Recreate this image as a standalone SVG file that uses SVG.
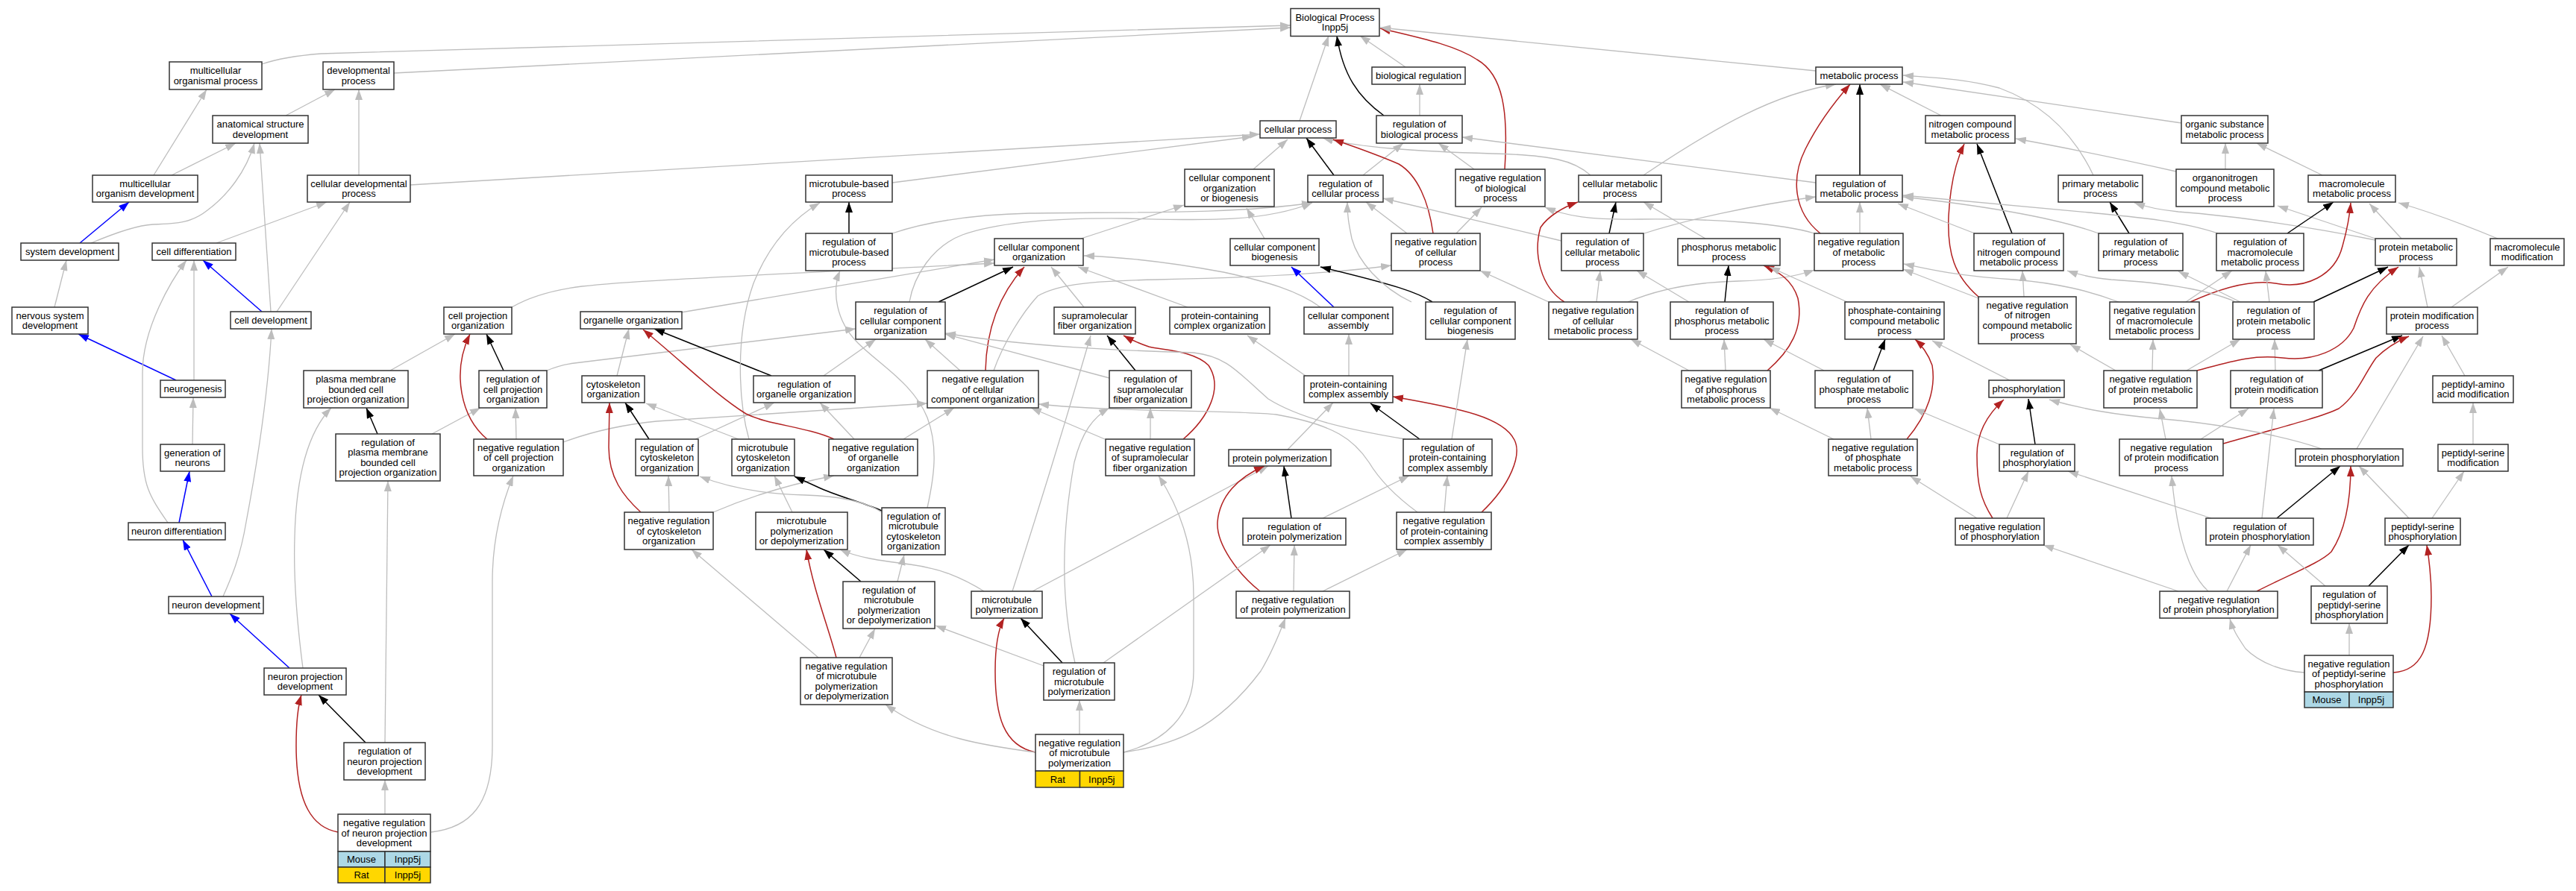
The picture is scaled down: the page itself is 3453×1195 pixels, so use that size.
<svg xmlns="http://www.w3.org/2000/svg" width="3453" height="1195" viewBox="0 0 3453 1195">
<style>
.n{fill:#fff;stroke:#333;stroke-width:1.5}
.t{font-family:"Liberation Sans",Arial,sans-serif;font-size:13px;text-anchor:middle;fill:#000}
.mo{fill:#add8e6;stroke:#333;stroke-width:1.5}
.ra{fill:#ffd700;stroke:#333;stroke-width:1.5}
.g{stroke:#bdbdbd;stroke-width:1.3;fill:none;marker-end:url(#ag)}
.k{stroke:#000;stroke-width:1.5;fill:none;marker-end:url(#ak)}
.r{stroke:#b22222;stroke-width:1.5;fill:none;marker-end:url(#ar)}
.b{stroke:#0000ff;stroke-width:1.5;fill:none;marker-end:url(#ab)}
</style>
<defs>
<marker id="ag" markerUnits="userSpaceOnUse" markerWidth="14" markerHeight="10" viewBox="0 0 14 10" refX="14" refY="5" orient="auto"><path d="M0,0 L14,5 L0,10 z" fill="#bdbdbd"/></marker>
<marker id="ak" markerUnits="userSpaceOnUse" markerWidth="14" markerHeight="10" viewBox="0 0 14 10" refX="14" refY="5" orient="auto"><path d="M0,0 L14,5 L0,10 z" fill="#000"/></marker>
<marker id="ar" markerUnits="userSpaceOnUse" markerWidth="14" markerHeight="10" viewBox="0 0 14 10" refX="14" refY="5" orient="auto"><path d="M0,0 L14,5 L0,10 z" fill="#b22222"/></marker>
<marker id="ab" markerUnits="userSpaceOnUse" markerWidth="14" markerHeight="10" viewBox="0 0 14 10" refX="14" refY="5" orient="auto"><path d="M0,0 L14,5 L0,10 z" fill="#0000ff"/></marker>
</defs>
<rect width="3453" height="1195" fill="#fff"/>
<g id="edges">
<path class="g" d="M351,86 Q380,76 430,72 L1730,34"/>
<path class="g" d="M528,98 L1730,37"/>
<path class="g" d="M383,155 L449,120"/>
<path class="g" d="M206,235 L277,120"/>
<path class="g" d="M230,235 L316,192"/>
<path class="g" d="M481,235 L481,120"/>
<path class="g" d="M550,248 L1689,180"/>
<path class="b" d="M107,326 L173,271"/>
<path class="g" d="M122,326 C160,310 185,302 205,301 C240,300 258,298 278,282 C305,262 330,230 341,192"/>
<path class="g" d="M290,326 L438,271"/>
<path class="g" d="M363,418 L348,192"/>
<path class="g" d="M371,418 L469,271"/>
<path class="b" d="M351,418 L272,349"/>
<path class="g" d="M73,412 L89,349"/>
<path class="b" d="M236,510 L105,448"/>
<path class="g" d="M260,510 L260,349"/>
<path class="g" d="M258,596 L259,533"/>
<path class="g" d="M225,701 C200,665 191,650 191,600 L191,500 C191,440 230,375 250,349"/>
<path class="b" d="M240,701 L254,632"/>
<path class="b" d="M284,800 L245,724"/>
<path class="g" d="M299,800 C310,775 322,748 330,700 C345,620 360,520 364,441"/>
<path class="b" d="M388,896 L308,823"/>
<path class="g" d="M406,896 C400,850 393,780 395,720 C397,640 412,580 444,547"/>
<path class="k" d="M490,996 L427,932"/>
<path class="g" d="M516,996 L520,645"/>
<path class="g" d="M516,1092 L516,1046"/>
<path class="r" d="M453,1116 C420,1110 397,1080 397,1000 C397,970 400,945 404,932"/>
<path class="g" d="M578,1116 C630,1110 660,1080 660,1000 L660,780 C660,720 675,670 688,638"/>
<path class="g" d="M523,497 L610,448"/>
<path class="k" d="M506,582 L491,547"/>
<path class="g" d="M579,582 L644,547"/>
<path class="k" d="M675,497 L652,448"/>
<path class="g" d="M733,497 C745,492 755,489 770,487 L1147,441"/>
<path class="r" d="M653,589 C618,560 605,500 630,448"/>
<path class="g" d="M692,589 L691,547"/>
<path class="g" d="M755,593 C790,580 830,570 880,565 L1243,541"/>
<path class="g" d="M686,412 C710,398 740,389 780,384 C850,376 1000,370 1333,353"/>
<path class="g" d="M913,419 L1333,348"/>
<path class="g" d="M827,504 L843,441"/>
<path class="k" d="M1034,504 L877,441"/>
<path class="g" d="M1104,504 L1174,455"/>
<path class="k" d="M870,589 L838,540"/>
<path class="g" d="M932,589 L1038,540"/>
<path class="r" d="M859,687 C835,665 816,640 816,600 L817,540"/>
<path class="g" d="M897,687 L896,638"/>
<path class="g" d="M956,687 Q1030,655 1118,638"/>
<path class="g" d="M990,589 L866,541"/>
<path class="g" d="M1004,589 C990,540 985,450 1010,380 C1030,330 1060,295 1099,272"/>
<path class="r" d="M1118,589 C1080,572 1030,570 1000,555 C960,530 920,490 862,442"/>
<path class="g" d="M1145,589 L1099,540"/>
<path class="g" d="M1211,589 L1279,547"/>
<path class="k" d="M1258,405 L1358,358"/>
<path class="g" d="M1219,405 C1225,370 1250,330 1290,315 C1340,297 1420,292 1510,293 C1600,295 1690,300 1759,272"/>
<path class="k" d="M1138,313 L1138,271"/>
<path class="g" d="M1196,313 C1240,298 1300,288 1380,286 C1500,284 1650,288 1759,272"/>
<path class="g" d="M1196,245 L1679,183"/>
<path class="g" d="M1449,320 L1587,275"/>
<path class="g" d="M1695,320 L1671,279"/>
<path class="g" d="M1680,227 L1726,187"/>
<path class="g" d="M1453,412 L1409,358"/>
<path class="g" d="M1592,412 L1445,358"/>
<path class="r" d="M1321,497 C1322,450 1335,400 1373,358"/>
<path class="g" d="M1287,497 L1240,455"/>
<path class="g" d="M1332,497 C1345,460 1370,420 1391,397 C1420,380 1470,377 1550,375 C1700,372 1800,365 1865,356"/>
<path class="k" d="M1522,497 L1484,450"/>
<path class="g" d="M1487,507 L1267,448"/>
<path class="r" d="M1586,589 C1620,560 1640,520 1620,490 C1600,470 1560,470 1540,465 C1525,460 1515,455 1506,450"/>
<path class="g" d="M1542,589 L1542,547"/>
<path class="g" d="M1481,589 L1382,547"/>
<path class="g" d="M1770,412 C1740,390 1700,378 1640,365 C1570,352 1510,345 1453,343"/>
<path class="g" d="M1357,793 C1390,690 1430,560 1462,450"/>
<path class="g" d="M1441,889 C1425,820 1420,730 1440,620 C1450,580 1465,560 1487,547"/>
<path class="b" d="M1788,412 L1731,358"/>
<path class="k" d="M1920,405 C1900,392 1870,382 1770,358"/>
<path class="g" d="M1808,504 L1808,448"/>
<path class="g" d="M1750,504 L1672,450"/>
<path class="g" d="M1726,603 L1787,540"/>
<path class="k" d="M1903,589 L1837,541"/>
<path class="r" d="M1986,687 C2025,650 2040,610 2030,590 C2015,560 1960,548 1867,532"/>
<path class="g" d="M1936,687 L1940,638"/>
<path class="g" d="M1946,589 L1967,455"/>
<path class="g" d="M1884,589 C1800,575 1740,560 1700,535 C1660,500 1645,478 1600,473 C1500,470 1380,465 1267,447"/>
<path class="g" d="M1900,687 C1870,665 1850,645 1835,620 C1815,590 1790,570 1711,556 C1650,550 1500,553 1392,542"/>
<path class="g" d="M1384,793 L1700,625"/>
<path class="k" d="M1731,695 L1721,625"/>
<path class="r" d="M1689,793 C1660,770 1630,730 1632,700 C1635,665 1660,640 1695,625"/>
<path class="g" d="M1734,793 L1735,731"/>
<path class="g" d="M1773,793 L1886,737"/>
<path class="g" d="M1773,695 L1889,638"/>
<path class="g" d="M1062,687 L1038,638"/>
<path class="k" d="M1154,780 L1104,737"/>
<path class="g" d="M1203,780 L1212,744"/>
<path class="r" d="M1121,882 C1110,840 1090,790 1081,737"/>
<path class="g" d="M1152,882 L1173,843"/>
<path class="g" d="M1097,882 L927,737"/>
<path class="k" d="M1182,685 C1160,675 1130,668 1100,655 L1065,639"/>
<path class="g" d="M1182,687 C1160,672 1120,665 1080,664 C1030,663 980,655 938,639"/>
<path class="g" d="M1243,681 C1252,640 1258,600 1243,560 C1225,515 1180,490 1150,460 C1120,430 1115,390 1126,363"/>
<path class="g" d="M1319,793 C1290,775 1260,762 1220,757 C1180,752 1150,748 1126,737"/>
<path class="k" d="M1424,889 L1368,829"/>
<path class="g" d="M1399,893 L1254,839"/>
<path class="g" d="M1479,889 L1703,731"/>
<path class="g" d="M1447,985 L1447,939"/>
<path class="r" d="M1388,1009 C1345,1000 1334,960 1334,900 C1334,860 1340,840 1346,829"/>
<path class="g" d="M1388,1009 C1320,1000 1250,990 1187,945"/>
<path class="g" d="M1506,1009 C1570,1000 1630,980 1690,900 C1705,875 1715,850 1723,829"/>
<path class="g" d="M1506,1009 C1560,995 1600,960 1600,900 L1600,800 C1600,730 1580,680 1553,638"/>
<path class="g" d="M1884,90 L1823,48"/>
<path class="g" d="M1742,162 L1781,48"/>
<path class="k" d="M1855,155 C1820,130 1800,100 1792,48"/>
<path class="g" d="M1903,155 L1903,113"/>
<path class="r" d="M2017,227 C2022,150 2015,100 1980,80 C1950,60 1900,50 1850,38"/>
<path class="g" d="M2434,95 L1850,37"/>
<path class="g" d="M1976,227 L1928,192"/>
<path class="k" d="M1788,235 L1751,185"/>
<path class="g" d="M1827,235 L1881,192"/>
<path class="g" d="M2132,235 C2110,215 2080,208 2000,206 C1900,203 1820,198 1773,185"/>
<path class="g" d="M2203,235 C2300,170 2380,125 2461,113"/>
<path class="r" d="M1921,313 C1915,270 1900,235 1875,220 C1840,205 1810,195 1787,187"/>
<path class="g" d="M1886,313 L1831,271"/>
<path class="g" d="M1952,313 L1986,278"/>
<path class="k" d="M2157,313 L2166,271"/>
<path class="g" d="M2093,323 L1854,266"/>
<path class="g" d="M2204,313 C2260,295 2350,275 2434,264"/>
<path class="k" d="M2493,235 L2493,113"/>
<path class="g" d="M2434,245 L1960,184"/>
<path class="g" d="M2286,320 L2203,271"/>
<path class="r" d="M2440,313 C2405,285 2400,240 2420,200 C2440,160 2465,130 2480,113"/>
<path class="g" d="M2493,313 L2493,271"/>
<path class="g" d="M2432,313 C2390,300 2300,293 2200,294 C2130,295 2100,290 2071,278"/>
<path class="g" d="M1892,405 C1850,385 1820,350 1812,320 C1808,300 1806,290 1806,271"/>
<path class="g" d="M2076,405 L1984,363"/>
<path class="r" d="M2097,405 C2065,385 2055,340 2065,305 C2075,290 2095,278 2115,271"/>
<path class="g" d="M2140,405 L2145,363"/>
<path class="g" d="M2182,405 C2230,385 2280,378 2330,377 C2380,376 2410,370 2432,362"/>
<path class="k" d="M2312,405 L2317,356"/>
<path class="g" d="M2264,405 L2194,363"/>
<path class="r" d="M2369,497 C2400,470 2418,440 2410,400 C2402,375 2385,365 2364,356"/>
<path class="g" d="M2313,497 L2311,455"/>
<path class="g" d="M2264,497 L2186,455"/>
<path class="g" d="M2476,405 L2372,358"/>
<path class="k" d="M2511,497 L2527,455"/>
<path class="g" d="M2445,497 L2364,455"/>
<path class="r" d="M2556,589 C2585,555 2595,520 2590,490 C2585,475 2575,462 2567,455"/>
<path class="g" d="M2508,589 L2503,547"/>
<path class="g" d="M2458,589 L2372,547"/>
<path class="g" d="M2602,155 L2520,113"/>
<path class="g" d="M2806,235 C2780,180 2740,140 2680,118 C2630,105 2590,104 2551,101"/>
<path class="g" d="M2924,165 L2551,110"/>
<path class="k" d="M2697,313 L2650,193"/>
<path class="r" d="M2652,398 C2620,370 2610,340 2612,290 C2614,250 2620,220 2633,193"/>
<path class="g" d="M2713,398 L2711,363"/>
<path class="g" d="M2652,400 L2551,361"/>
<path class="k" d="M2854,313 L2828,271"/>
<path class="g" d="M2813,313 C2750,290 2650,275 2551,264"/>
<path class="g" d="M2647,313 L2544,273"/>
<path class="g" d="M2973,313 C2920,295 2850,290 2800,285 C2700,275 2620,268 2551,262"/>
<path class="g" d="M2983,227 L2983,192"/>
<path class="g" d="M2917,230 C2850,215 2780,200 2702,186"/>
<path class="g" d="M3113,235 L3025,192"/>
<path class="g" d="M3184,322 C3100,305 3000,290 2920,284 C2890,281 2875,277 2861,272"/>
<path class="g" d="M3184,320 L3053,276"/>
<path class="g" d="M3219,320 L3176,273"/>
<path class="g" d="M3348,320 C3300,300 3260,285 3215,272"/>
<path class="k" d="M3066,313 L3128,271"/>
<path class="r" d="M2936,405 C2980,385 3020,375 3050,380 C3090,388 3130,370 3140,330 C3147,305 3150,285 3151,272"/>
<path class="g" d="M2930,405 L2992,363"/>
<path class="g" d="M2840,405 C2800,390 2760,380 2700,375 C2620,370 2580,360 2552,354"/>
<path class="k" d="M3101,405 L3201,358"/>
<path class="g" d="M3042,405 L3037,363"/>
<path class="g" d="M3003,405 L2920,364"/>
<path class="g" d="M2995,404 C2950,385 2880,378 2830,375 C2800,372 2785,368 2771,363"/>
<path class="g" d="M3254,412 L3243,358"/>
<path class="g" d="M3286,412 L3362,358"/>
<path class="k" d="M3108,497 L3220,450"/>
<path class="g" d="M3050,497 L3049,455"/>
<path class="r" d="M2945,497 C2990,485 3020,475 3060,480 C3100,485 3140,470 3155,440 C3165,410 3175,385 3215,358"/>
<path class="g" d="M2931,497 L3003,455"/>
<path class="g" d="M2885,497 L2886,455"/>
<path class="g" d="M2836,497 L2775,462"/>
<path class="g" d="M3304,504 L3273,450"/>
<path class="g" d="M2694,510 L2590,457"/>
<path class="r" d="M2980,595 C3050,575 3110,560 3135,548 C3160,530 3170,500 3185,480 C3200,465 3215,457 3229,451"/>
<path class="g" d="M2950,589 L3014,548"/>
<path class="g" d="M2903,589 L2895,548"/>
<path class="g" d="M3112,602 C3050,580 2950,566 2900,562 C2830,556 2790,548 2747,536"/>
<path class="g" d="M3159,602 L3248,451"/>
<path class="k" d="M2728,596 L2719,535"/>
<path class="g" d="M2680,596 L2566,548"/>
<path class="r" d="M2671,695 C2655,670 2650,650 2650,610 C2650,580 2665,555 2686,536"/>
<path class="g" d="M2690,695 L2719,632"/>
<path class="g" d="M2650,695 L2561,639"/>
<path class="k" d="M3052,695 L3137,625"/>
<path class="g" d="M2964,695 L2772,632"/>
<path class="g" d="M3032,695 L3048,548"/>
<path class="r" d="M3025,793 C3070,770 3110,755 3125,740 C3145,710 3151,670 3151,625"/>
<path class="g" d="M2985,793 L3017,731"/>
<path class="g" d="M2920,793 L2739,731"/>
<path class="g" d="M2960,793 C2935,770 2918,720 2911,638"/>
<path class="g" d="M3229,695 L3162,625"/>
<path class="g" d="M3260,695 L3303,632"/>
<path class="g" d="M3315,596 L3315,540"/>
<path class="k" d="M3175,786 L3229,731"/>
<path class="g" d="M3117,786 L3053,731"/>
<path class="g" d="M3149,879 L3149,836"/>
<path class="g" d="M3089,902 C3060,900 3030,890 3010,870 C3000,855 2993,845 2989,830"/>
<path class="r" d="M3208,902 C3245,900 3259,870 3259,800 C3259,770 3256,750 3253,731"/>
</g>
<g id="n1"><rect class="n" x="227" y="83" width="124" height="37"/><text class="t"><tspan x="289" y="99.4">multicellular</tspan><tspan x="289" y="112.8">organismal process</tspan></text></g>
<g id="n2"><rect class="n" x="433" y="83" width="95" height="37"/><text class="t"><tspan x="480.5" y="99.4">developmental</tspan><tspan x="480.5" y="112.8">process</tspan></text></g>
<g id="n3"><rect class="n" x="285" y="155" width="128" height="37"/><text class="t"><tspan x="349" y="171.4">anatomical structure</tspan><tspan x="349" y="184.8">development</tspan></text></g>
<g id="n4"><rect class="n" x="124" y="235" width="141" height="36"/><text class="t"><tspan x="194.5" y="250.9">multicellular</tspan><tspan x="194.5" y="264.3">organism development</tspan></text></g>
<g id="n5"><rect class="n" x="412" y="235" width="138" height="36"/><text class="t"><tspan x="481" y="250.9">cellular developmental</tspan><tspan x="481" y="264.3">process</tspan></text></g>
<g id="n6"><rect class="n" x="28" y="326" width="131" height="23"/><text class="t" x="93.5" y="342.1">system development</text></g>
<g id="n7"><rect class="n" x="204" y="326" width="112" height="23"/><text class="t" x="260" y="342.1">cell differentiation</text></g>
<g id="n8"><rect class="n" x="16" y="412" width="102" height="36"/><text class="t"><tspan x="67" y="427.9">nervous system</tspan><tspan x="67" y="441.3">development</tspan></text></g>
<g id="n9"><rect class="n" x="309" y="418" width="108" height="23"/><text class="t" x="363" y="434.1">cell development</text></g>
<g id="n10"><rect class="n" x="595" y="412" width="91" height="36"/><text class="t"><tspan x="640.5" y="427.9">cell projection</tspan><tspan x="640.5" y="441.3">organization</tspan></text></g>
<g id="n11"><rect class="n" x="778" y="418" width="136" height="23"/><text class="t" x="846" y="434.1">organelle organization</text></g>
<g id="n12"><rect class="n" x="215" y="510" width="87" height="23"/><text class="t" x="258.5" y="526.1">neurogenesis</text></g>
<g id="n13"><rect class="n" x="407" y="497" width="140" height="50"/><text class="t"><tspan x="477" y="513.2">plasma membrane</tspan><tspan x="477" y="526.6">bounded cell</tspan><tspan x="477" y="540">projection organization</tspan></text></g>
<g id="n14"><rect class="n" x="642" y="497" width="91" height="50"/><text class="t"><tspan x="687.5" y="513.2">regulation of</tspan><tspan x="687.5" y="526.6">cell projection</tspan><tspan x="687.5" y="540">organization</tspan></text></g>
<g id="n15"><rect class="n" x="780" y="504" width="84" height="36"/><text class="t"><tspan x="822" y="519.9">cytoskeleton</tspan><tspan x="822" y="533.3">organization</tspan></text></g>
<g id="n16"><rect class="n" x="450" y="582" width="140" height="63"/><text class="t"><tspan x="520" y="598">regulation of</tspan><tspan x="520" y="611.4">plasma membrane</tspan><tspan x="520" y="624.8">bounded cell</tspan><tspan x="520" y="638.2">projection organization</tspan></text></g>
<g id="n17"><rect class="n" x="635" y="589" width="120" height="49"/><text class="t"><tspan x="695" y="604.7">negative regulation</tspan><tspan x="695" y="618.1">of cell projection</tspan><tspan x="695" y="631.5">organization</tspan></text></g>
<g id="n18"><rect class="n" x="215" y="596" width="86" height="36"/><text class="t"><tspan x="258" y="611.9">generation of</tspan><tspan x="258" y="625.3">neurons</tspan></text></g>
<g id="n19"><rect class="n" x="172" y="701" width="130" height="23"/><text class="t" x="237" y="717.1">neuron differentiation</text></g>
<g id="n20"><rect class="n" x="226" y="800" width="127" height="23"/><text class="t" x="289.5" y="816.1">neuron development</text></g>
<g id="n21"><rect class="n" x="354" y="896" width="110" height="36"/><text class="t"><tspan x="409" y="911.9">neuron projection</tspan><tspan x="409" y="925.3">development</tspan></text></g>
<g id="n22"><rect class="n" x="461" y="996" width="109" height="50"/><text class="t"><tspan x="515.5" y="1012.2">regulation of</tspan><tspan x="515.5" y="1025.6">neuron projection</tspan><tspan x="515.5" y="1039">development</tspan></text></g>
<g id="n23"><rect class="n" x="453" y="1092" width="124" height="50"/><rect class="mo" x="453" y="1142" width="63" height="21"/><rect class="mo" x="516" y="1142" width="61" height="21"/><rect class="ra" x="453" y="1163" width="63" height="21"/><rect class="ra" x="516" y="1163" width="61" height="21"/><text class="t"><tspan x="515" y="1108.2">negative regulation</tspan><tspan x="515" y="1121.6">of neuron projection</tspan><tspan x="515" y="1135">development</tspan></text><text class="t" x="484.5" y="1157.1">Mouse</text><text class="t" x="546.5" y="1157.1">Inpp5j</text><text class="t" x="484.5" y="1178.1">Rat</text><text class="t" x="546.5" y="1178.1">Inpp5j</text></g>
<g id="n24"><rect class="n" x="1080" y="235" width="116" height="36"/><text class="t"><tspan x="1138" y="250.9">microtubule-based</tspan><tspan x="1138" y="264.3">process</tspan></text></g>
<g id="n25"><rect class="n" x="1080" y="313" width="116" height="50"/><text class="t"><tspan x="1138" y="329.2">regulation of</tspan><tspan x="1138" y="342.6">microtubule-based</tspan><tspan x="1138" y="356">process</tspan></text></g>
<g id="n26"><rect class="n" x="1588" y="227" width="120" height="50"/><text class="t"><tspan x="1648" y="243.2">cellular component</tspan><tspan x="1648" y="256.6">organization</tspan><tspan x="1648" y="270">or biogenesis</tspan></text></g>
<g id="n27"><rect class="n" x="1333" y="320" width="119" height="36"/><text class="t"><tspan x="1392.5" y="335.9">cellular component</tspan><tspan x="1392.5" y="349.3">organization</tspan></text></g>
<g id="n28"><rect class="n" x="1649" y="320" width="119" height="36"/><text class="t"><tspan x="1708.5" y="335.9">cellular component</tspan><tspan x="1708.5" y="349.3">biogenesis</tspan></text></g>
<g id="n29"><rect class="n" x="1147" y="405" width="120" height="50"/><text class="t"><tspan x="1207" y="421.2">regulation of</tspan><tspan x="1207" y="434.6">cellular component</tspan><tspan x="1207" y="448">organization</tspan></text></g>
<g id="n30"><rect class="n" x="1413" y="412" width="109" height="36"/><text class="t"><tspan x="1467.5" y="427.9">supramolecular</tspan><tspan x="1467.5" y="441.3">fiber organization</tspan></text></g>
<g id="n31"><rect class="n" x="1568" y="412" width="134" height="36"/><text class="t"><tspan x="1635" y="427.9">protein-containing</tspan><tspan x="1635" y="441.3">complex organization</tspan></text></g>
<g id="n32"><rect class="n" x="1010" y="504" width="136" height="36"/><text class="t"><tspan x="1078" y="519.9">regulation of</tspan><tspan x="1078" y="533.3">organelle organization</tspan></text></g>
<g id="n33"><rect class="n" x="1243" y="497" width="149" height="50"/><text class="t"><tspan x="1317.5" y="513.2">negative regulation</tspan><tspan x="1317.5" y="526.6">of cellular</tspan><tspan x="1317.5" y="540">component organization</tspan></text></g>
<g id="n34"><rect class="n" x="1487" y="497" width="110" height="50"/><text class="t"><tspan x="1542" y="513.2">regulation of</tspan><tspan x="1542" y="526.6">supramolecular</tspan><tspan x="1542" y="540">fiber organization</tspan></text></g>
<g id="n35"><rect class="n" x="852" y="589" width="84" height="49"/><text class="t"><tspan x="894" y="604.7">regulation of</tspan><tspan x="894" y="618.1">cytoskeleton</tspan><tspan x="894" y="631.5">organization</tspan></text></g>
<g id="n36"><rect class="n" x="981" y="589" width="84" height="49"/><text class="t"><tspan x="1023" y="604.7">microtubule</tspan><tspan x="1023" y="618.1">cytoskeleton</tspan><tspan x="1023" y="631.5">organization</tspan></text></g>
<g id="n37"><rect class="n" x="1111" y="589" width="119" height="49"/><text class="t"><tspan x="1170.5" y="604.7">negative regulation</tspan><tspan x="1170.5" y="618.1">of organelle</tspan><tspan x="1170.5" y="631.5">organization</tspan></text></g>
<g id="n38"><rect class="n" x="837" y="687" width="119" height="50"/><text class="t"><tspan x="896.5" y="703.2">negative regulation</tspan><tspan x="896.5" y="716.6">of cytoskeleton</tspan><tspan x="896.5" y="730">organization</tspan></text></g>
<g id="n39"><rect class="n" x="1013" y="687" width="123" height="50"/><text class="t"><tspan x="1074.5" y="703.2">microtubule</tspan><tspan x="1074.5" y="716.6">polymerization</tspan><tspan x="1074.5" y="730">or depolymerization</tspan></text></g>
<g id="n40"><rect class="n" x="1182" y="681" width="85" height="63"/><text class="t"><tspan x="1224.5" y="697">regulation of</tspan><tspan x="1224.5" y="710.4">microtubule</tspan><tspan x="1224.5" y="723.8">cytoskeleton</tspan><tspan x="1224.5" y="737.2">organization</tspan></text></g>
<g id="n41"><rect class="n" x="1130" y="780" width="123" height="63"/><text class="t"><tspan x="1191.5" y="796">regulation of</tspan><tspan x="1191.5" y="809.4">microtubule</tspan><tspan x="1191.5" y="822.8">polymerization</tspan><tspan x="1191.5" y="836.2">or depolymerization</tspan></text></g>
<g id="n42"><rect class="n" x="1302" y="793" width="95" height="36"/><text class="t"><tspan x="1349.5" y="808.9">microtubule</tspan><tspan x="1349.5" y="822.3">polymerization</tspan></text></g>
<g id="n43"><rect class="n" x="1073" y="882" width="123" height="63"/><text class="t"><tspan x="1134.5" y="898">negative regulation</tspan><tspan x="1134.5" y="911.4">of microtubule</tspan><tspan x="1134.5" y="924.8">polymerization</tspan><tspan x="1134.5" y="938.2">or depolymerization</tspan></text></g>
<g id="n44"><rect class="n" x="1399" y="889" width="95" height="50"/><text class="t"><tspan x="1446.5" y="905.2">regulation of</tspan><tspan x="1446.5" y="918.6">microtubule</tspan><tspan x="1446.5" y="932">polymerization</tspan></text></g>
<g id="n45"><rect class="n" x="1388" y="985" width="118" height="49"/><rect class="ra" x="1388" y="1034" width="59.5" height="22"/><rect class="ra" x="1447.5" y="1034" width="58.5" height="22"/><text class="t"><tspan x="1447" y="1000.7">negative regulation</tspan><tspan x="1447" y="1014.1">of microtubule</tspan><tspan x="1447" y="1027.5">polymerization</tspan></text><text class="t" x="1417.8" y="1049.6">Rat</text><text class="t" x="1476.8" y="1049.6">Inpp5j</text></g>
<g id="n46"><rect class="n" x="1482" y="589" width="119" height="49"/><text class="t"><tspan x="1541.5" y="604.7">negative regulation</tspan><tspan x="1541.5" y="618.1">of supramolecular</tspan><tspan x="1541.5" y="631.5">fiber organization</tspan></text></g>
<g id="n47"><rect class="n" x="1647" y="603" width="137" height="22"/><text class="t" x="1715.5" y="618.6">protein polymerization</text></g>
<g id="n48"><rect class="n" x="1666" y="695" width="138" height="36"/><text class="t"><tspan x="1735" y="710.9">regulation of</tspan><tspan x="1735" y="724.3">protein polymerization</tspan></text></g>
<g id="n49"><rect class="n" x="1657" y="793" width="152" height="36"/><text class="t"><tspan x="1733" y="808.9">negative regulation</tspan><tspan x="1733" y="822.3">of protein polymerization</tspan></text></g>
<g id="n50"><rect class="n" x="1730" y="11.5" width="119" height="37"/><text class="t"><tspan x="1789.5" y="27.9">Biological Process</tspan><tspan x="1789.5" y="41.3">Inpp5j</tspan></text></g>
<g id="n51"><rect class="n" x="1839" y="90" width="125" height="23"/><text class="t" x="1901.5" y="106.1">biological regulation</text></g>
<g id="n52"><rect class="n" x="2434" y="90" width="116" height="23"/><text class="t" x="2492" y="106.1">metabolic process</text></g>
<g id="n53"><rect class="n" x="1689" y="162" width="102" height="23"/><text class="t" x="1740" y="178.1">cellular process</text></g>
<g id="n54"><rect class="n" x="1845" y="155" width="115" height="37"/><text class="t"><tspan x="1902.5" y="171.4">regulation of</tspan><tspan x="1902.5" y="184.8">biological process</tspan></text></g>
<g id="n55"><rect class="n" x="1753" y="235" width="101" height="36"/><text class="t"><tspan x="1803.5" y="250.9">regulation of</tspan><tspan x="1803.5" y="264.3">cellular process</tspan></text></g>
<g id="n56"><rect class="n" x="1951" y="227" width="120" height="50"/><text class="t"><tspan x="2011" y="243.2">negative regulation</tspan><tspan x="2011" y="256.6">of biological</tspan><tspan x="2011" y="270">process</tspan></text></g>
<g id="n57"><rect class="n" x="2116" y="235" width="111" height="36"/><text class="t"><tspan x="2171.5" y="250.9">cellular metabolic</tspan><tspan x="2171.5" y="264.3">process</tspan></text></g>
<g id="n58"><rect class="n" x="2434" y="235" width="116" height="36"/><text class="t"><tspan x="2492" y="250.9">regulation of</tspan><tspan x="2492" y="264.3">metabolic process</tspan></text></g>
<g id="n59"><rect class="n" x="1865" y="313" width="119" height="50"/><text class="t"><tspan x="1924.5" y="329.2">negative regulation</tspan><tspan x="1924.5" y="342.6">of cellular</tspan><tspan x="1924.5" y="356">process</tspan></text></g>
<g id="n60"><rect class="n" x="2093" y="313" width="110" height="50"/><text class="t"><tspan x="2148" y="329.2">regulation of</tspan><tspan x="2148" y="342.6">cellular metabolic</tspan><tspan x="2148" y="356">process</tspan></text></g>
<g id="n61"><rect class="n" x="2249" y="320" width="137" height="36"/><text class="t"><tspan x="2317.5" y="335.9">phosphorus metabolic</tspan><tspan x="2317.5" y="349.3">process</tspan></text></g>
<g id="n62"><rect class="n" x="2432" y="313" width="119" height="50"/><text class="t"><tspan x="2491.5" y="329.2">negative regulation</tspan><tspan x="2491.5" y="342.6">of metabolic</tspan><tspan x="2491.5" y="356">process</tspan></text></g>
<g id="n63"><rect class="n" x="1748" y="412" width="119" height="36"/><text class="t"><tspan x="1807.5" y="427.9">cellular component</tspan><tspan x="1807.5" y="441.3">assembly</tspan></text></g>
<g id="n64"><rect class="n" x="1911" y="405" width="120" height="50"/><text class="t"><tspan x="1971" y="421.2">regulation of</tspan><tspan x="1971" y="434.6">cellular component</tspan><tspan x="1971" y="448">biogenesis</tspan></text></g>
<g id="n65"><rect class="n" x="2076" y="405" width="119" height="50"/><text class="t"><tspan x="2135.5" y="421.2">negative regulation</tspan><tspan x="2135.5" y="434.6">of cellular</tspan><tspan x="2135.5" y="448">metabolic process</tspan></text></g>
<g id="n66"><rect class="n" x="2239" y="405" width="138" height="50"/><text class="t"><tspan x="2308" y="421.2">regulation of</tspan><tspan x="2308" y="434.6">phosphorus metabolic</tspan><tspan x="2308" y="448">process</tspan></text></g>
<g id="n67"><rect class="n" x="2473" y="405" width="133" height="50"/><text class="t"><tspan x="2539.5" y="421.2">phosphate-containing</tspan><tspan x="2539.5" y="434.6">compound metabolic</tspan><tspan x="2539.5" y="448">process</tspan></text></g>
<g id="n68"><rect class="n" x="1748" y="504" width="119" height="36"/><text class="t"><tspan x="1807.5" y="519.9">protein-containing</tspan><tspan x="1807.5" y="533.3">complex assembly</tspan></text></g>
<g id="n69"><rect class="n" x="2254" y="497" width="119" height="50"/><text class="t"><tspan x="2313.5" y="513.2">negative regulation</tspan><tspan x="2313.5" y="526.6">of phosphorus</tspan><tspan x="2313.5" y="540">metabolic process</tspan></text></g>
<g id="n70"><rect class="n" x="2433" y="497" width="131" height="50"/><text class="t"><tspan x="2498.5" y="513.2">regulation of</tspan><tspan x="2498.5" y="526.6">phosphate metabolic</tspan><tspan x="2498.5" y="540">process</tspan></text></g>
<g id="n71"><rect class="n" x="1881" y="589" width="119" height="49"/><text class="t"><tspan x="1940.5" y="604.7">regulation of</tspan><tspan x="1940.5" y="618.1">protein-containing</tspan><tspan x="1940.5" y="631.5">complex assembly</tspan></text></g>
<g id="n72"><rect class="n" x="1872" y="687" width="127" height="50"/><text class="t"><tspan x="1935.5" y="703.2">negative regulation</tspan><tspan x="1935.5" y="716.6">of protein-containing</tspan><tspan x="1935.5" y="730">complex assembly</tspan></text></g>
<g id="n73"><rect class="n" x="2451" y="589" width="119" height="49"/><text class="t"><tspan x="2510.5" y="604.7">negative regulation</tspan><tspan x="2510.5" y="618.1">of phosphate</tspan><tspan x="2510.5" y="631.5">metabolic process</tspan></text></g>
<g id="n74"><rect class="n" x="2581" y="155" width="120" height="37"/><text class="t"><tspan x="2641" y="171.4">nitrogen compound</tspan><tspan x="2641" y="184.8">metabolic process</tspan></text></g>
<g id="n75"><rect class="n" x="2924" y="155" width="116" height="37"/><text class="t"><tspan x="2982" y="171.4">organic substance</tspan><tspan x="2982" y="184.8">metabolic process</tspan></text></g>
<g id="n76"><rect class="n" x="2759" y="235" width="113" height="36"/><text class="t"><tspan x="2815.5" y="250.9">primary metabolic</tspan><tspan x="2815.5" y="264.3">process</tspan></text></g>
<g id="n77"><rect class="n" x="2917" y="227" width="131" height="50"/><text class="t"><tspan x="2982.5" y="243.2">organonitrogen</tspan><tspan x="2982.5" y="256.6">compound metabolic</tspan><tspan x="2982.5" y="270">process</tspan></text></g>
<g id="n78"><rect class="n" x="3094" y="235" width="117" height="36"/><text class="t"><tspan x="3152.5" y="250.9">macromolecule</tspan><tspan x="3152.5" y="264.3">metabolic process</tspan></text></g>
<g id="n79"><rect class="n" x="2646" y="313" width="120" height="50"/><text class="t"><tspan x="2706" y="329.2">regulation of</tspan><tspan x="2706" y="342.6">nitrogen compound</tspan><tspan x="2706" y="356">metabolic process</tspan></text></g>
<g id="n80"><rect class="n" x="2813" y="313" width="113" height="50"/><text class="t"><tspan x="2869.5" y="329.2">regulation of</tspan><tspan x="2869.5" y="342.6">primary metabolic</tspan><tspan x="2869.5" y="356">process</tspan></text></g>
<g id="n81"><rect class="n" x="2971" y="313" width="117" height="50"/><text class="t"><tspan x="3029.5" y="329.2">regulation of</tspan><tspan x="3029.5" y="342.6">macromolecule</tspan><tspan x="3029.5" y="356">metabolic process</tspan></text></g>
<g id="n82"><rect class="n" x="3184" y="320" width="109" height="36"/><text class="t"><tspan x="3238.5" y="335.9">protein metabolic</tspan><tspan x="3238.5" y="349.3">process</tspan></text></g>
<g id="n83"><rect class="n" x="3338" y="320" width="99" height="36"/><text class="t"><tspan x="3387.5" y="335.9">macromolecule</tspan><tspan x="3387.5" y="349.3">modification</tspan></text></g>
<g id="n84"><rect class="n" x="2652" y="398" width="131" height="63"/><text class="t"><tspan x="2717.5" y="414">negative regulation</tspan><tspan x="2717.5" y="427.4">of nitrogen</tspan><tspan x="2717.5" y="440.8">compound metabolic</tspan><tspan x="2717.5" y="454.2">process</tspan></text></g>
<g id="n85"><rect class="n" x="2828" y="405" width="120" height="50"/><text class="t"><tspan x="2888" y="421.2">negative regulation</tspan><tspan x="2888" y="434.6">of macromolecule</tspan><tspan x="2888" y="448">metabolic process</tspan></text></g>
<g id="n86"><rect class="n" x="2993" y="405" width="109" height="50"/><text class="t"><tspan x="3047.5" y="421.2">regulation of</tspan><tspan x="3047.5" y="434.6">protein metabolic</tspan><tspan x="3047.5" y="448">process</tspan></text></g>
<g id="n87"><rect class="n" x="3199" y="412" width="122" height="36"/><text class="t"><tspan x="3260" y="427.9">protein modification</tspan><tspan x="3260" y="441.3">process</tspan></text></g>
<g id="n88"><rect class="n" x="2666" y="510" width="101" height="23"/><text class="t" x="2716.5" y="526.1">phosphorylation</text></g>
<g id="n89"><rect class="n" x="2820" y="497" width="125" height="50"/><text class="t"><tspan x="2882.5" y="513.2">negative regulation</tspan><tspan x="2882.5" y="526.6">of protein metabolic</tspan><tspan x="2882.5" y="540">process</tspan></text></g>
<g id="n90"><rect class="n" x="2990" y="497" width="123" height="50"/><text class="t"><tspan x="3051.5" y="513.2">regulation of</tspan><tspan x="3051.5" y="526.6">protein modification</tspan><tspan x="3051.5" y="540">process</tspan></text></g>
<g id="n91"><rect class="n" x="3261" y="504" width="108" height="36"/><text class="t"><tspan x="3315" y="519.9">peptidyl-amino</tspan><tspan x="3315" y="533.3">acid modification</tspan></text></g>
<g id="n92"><rect class="n" x="2680" y="596" width="101" height="36"/><text class="t"><tspan x="2730.5" y="611.9">regulation of</tspan><tspan x="2730.5" y="625.3">phosphorylation</tspan></text></g>
<g id="n93"><rect class="n" x="2841" y="589" width="139" height="49"/><text class="t"><tspan x="2910.5" y="604.7">negative regulation</tspan><tspan x="2910.5" y="618.1">of protein modification</tspan><tspan x="2910.5" y="631.5">process</tspan></text></g>
<g id="n94"><rect class="n" x="3077" y="602" width="144" height="23"/><text class="t" x="3149" y="618.1">protein phosphorylation</text></g>
<g id="n95"><rect class="n" x="3268" y="596" width="94" height="36"/><text class="t"><tspan x="3315" y="611.9">peptidyl-serine</tspan><tspan x="3315" y="625.3">modification</tspan></text></g>
<g id="n96"><rect class="n" x="2621" y="695" width="119" height="36"/><text class="t"><tspan x="2680.5" y="710.9">negative regulation</tspan><tspan x="2680.5" y="724.3">of phosphorylation</tspan></text></g>
<g id="n97"><rect class="n" x="2957" y="695" width="144" height="36"/><text class="t"><tspan x="3029" y="710.9">regulation of</tspan><tspan x="3029" y="724.3">protein phosphorylation</tspan></text></g>
<g id="n98"><rect class="n" x="3197" y="695" width="101" height="36"/><text class="t"><tspan x="3247.5" y="710.9">peptidyl-serine</tspan><tspan x="3247.5" y="724.3">phosphorylation</tspan></text></g>
<g id="n99"><rect class="n" x="2895" y="793" width="158" height="36"/><text class="t"><tspan x="2974" y="808.9">negative regulation</tspan><tspan x="2974" y="822.3">of protein phosphorylation</tspan></text></g>
<g id="n100"><rect class="n" x="3098" y="786" width="102" height="50"/><text class="t"><tspan x="3149" y="802.2">regulation of</tspan><tspan x="3149" y="815.6">peptidyl-serine</tspan><tspan x="3149" y="829">phosphorylation</tspan></text></g>
<g id="n101"><rect class="n" x="3089" y="879" width="119" height="49"/><rect class="mo" x="3089" y="928" width="60" height="21"/><rect class="mo" x="3149" y="928" width="59" height="21"/><text class="t"><tspan x="3148.5" y="894.7">negative regulation</tspan><tspan x="3148.5" y="908.1">of peptidyl-serine</tspan><tspan x="3148.5" y="921.5">phosphorylation</tspan></text><text class="t" x="3119" y="943.1">Mouse</text><text class="t" x="3178.5" y="943.1">Inpp5j</text></g>
</svg>
